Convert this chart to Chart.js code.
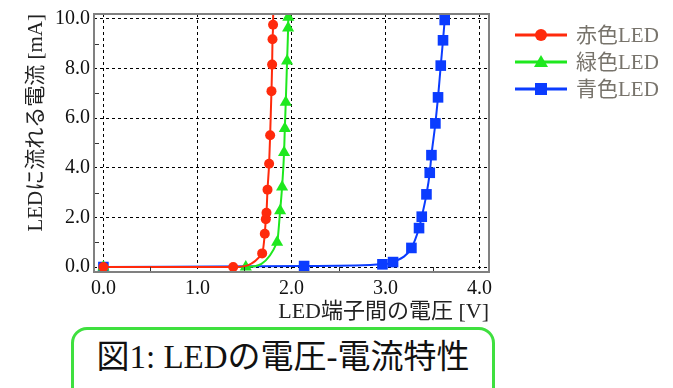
<!DOCTYPE html>
<html lang="ja">
<head>
<meta charset="utf-8">
<title>LEDの電圧-電流特性</title>
<script src="https://cdn.jsdelivr.net/npm/chart.js@4.4.1/dist/chart.umd.min.js"></script>
<style>
  body { margin: 0; background: #fff; }
  #wrap { position: relative; width: 673px; height: 388px; overflow: hidden; }
  #caption {
    position: absolute; left: 71px; top: 327px; width: 418px; height: 70px;
    border: 3px solid #3fe03f; border-radius: 16px;
    font-family: 'Liberation Serif', 'Noto Sans CJK JP', serif;
    font-size: 33px; line-height: 54px; text-align: center; color: #111;
  }
</style>
</head>
<body>
<div id="wrap">
  <canvas id="ledChart" width="673" height="325"></canvas>
  <div id="caption">図1: LEDの電圧-電流特性</div>
</div>
<script>
// 読み取った測定点 (電圧 V, 電流 mA)
const redV   = [0.0, 1.38, 1.688, 1.716, 1.727, 1.734, 1.745, 1.762, 1.773, 1.787, 1.794, 1.798, 1.804, 1.806];
const redI   = [0.0, 0.0, 0.55, 1.34, 1.93, 2.19, 3.12, 4.16, 5.31, 7.09, 8.16, 9.18, 9.77, 10.6];
const greenV = [0.0, 1.514, 1.847, 1.879, 1.900, 1.921, 1.929, 1.939, 1.953, 1.964, 1.966];
const greenI = [0.0, 0.0, 1.00, 2.27, 3.23, 4.62, 5.58, 6.64, 8.31, 9.64, 10.07];
const blueV  = [0.0, 2.134, 2.967, 3.08, 3.275, 3.356, 3.385, 3.435, 3.470, 3.488, 3.530, 3.558, 3.587, 3.611, 3.629];
const blueI  = [0.0, 0.04, 0.11, 0.2, 0.77, 1.57, 2.03, 2.93, 3.80, 4.51, 5.79, 6.84, 8.12, 9.14, 9.96];

const seriesNames = ["赤色LED", "緑色LED", "青色LED"];
const xTicks = [0, 1, 2, 3, 4];
const yTicks = [0, 2, 4, 6, 8, 10];
const xMinor = [0.5, 1.5, 2.5, 3.5];
const yMinor = [1, 3, 5, 7, 9];

const FONT = "'Liberation Serif', 'Noto Sans CJK JP', serif";

function pts(xs, ys) {
  return xs.map((x, i) => ({ x: x, y: ys[i] }));
}

// 枠・補助目盛・凡例
const decor = {
  id: 'decor',
  afterDraw(chart) {
    const ctx = chart.ctx;
    const a = chart.chartArea;
    const sx = chart.scales.x, sy = chart.scales.y;
    ctx.save();
    ctx.strokeStyle = '#333';
    ctx.lineWidth = 1;
    ctx.beginPath();
    yMinor.forEach(v => {
      const y = Math.round(sy.getPixelForValue(v)) + 0.5;
      ctx.moveTo(a.left, y); ctx.lineTo(a.left + 5, y);
    });
    xMinor.forEach(v => {
      const x = Math.round(sx.getPixelForValue(v)) + 0.5;
      ctx.moveTo(x, a.bottom); ctx.lineTo(x, a.bottom - 5);
    });
    ctx.stroke();

    ctx.strokeStyle = '#808080';
    ctx.lineWidth = 2;
    ctx.strokeRect(a.left, a.top, a.right - a.left, a.bottom - a.top);

    // 凡例
    ctx.font = '21px ' + FONT;
    ctx.textBaseline = 'middle';
    chart.data.datasets.forEach((ds, i) => {
      const y = 35 + i * 27;
      ctx.strokeStyle = ds.borderColor;
      ctx.lineWidth = 3;
      ctx.beginPath();
      ctx.moveTo(515, y); ctx.lineTo(567, y);
      ctx.stroke();
      ctx.fillStyle = ds.borderColor;
      ctx.beginPath();
      if (ds.pointStyle === 'circle') {
        ctx.arc(541, y, 6, 0, Math.PI * 2);
      } else if (ds.pointStyle === 'triangle') {
        ctx.moveTo(541, y - 7); ctx.lineTo(548, y + 5); ctx.lineTo(534, y + 5);
        ctx.closePath();
      } else {
        ctx.rect(535, y - 6, 12, 12);
      }
      ctx.fill();
      ctx.fillStyle = '#77736b';
      ctx.fillText(ds.label, 576, y + 1);
    });
    ctx.restore();
  }
};

new Chart(document.getElementById('ledChart'), {
  type: 'scatter',
  data: {
    datasets: [
      {
        label: seriesNames[0],
        data: pts(redV, redI),
        borderColor: '#ff2a0c',
        backgroundColor: '#ff2a0c',
        pointStyle: 'circle',
        pointRadius: 5
      },
      {
        label: seriesNames[1],
        data: pts(greenV, greenI),
        borderColor: '#1ee81e',
        backgroundColor: '#1ee81e',
        pointStyle: 'triangle',
        pointRadius: 7
      },
      {
        label: seriesNames[2],
        data: pts(blueV, blueI),
        borderColor: '#0b3cff',
        backgroundColor: '#0b3cff',
        pointStyle: 'rect',
        pointRadius: 7.5
      }
    ].map(ds => Object.assign(ds, {
      showLine: true,
      borderWidth: 2,
      pointBorderWidth: 0,
      cubicInterpolationMode: 'monotone'
    }))
  },
  options: {
    responsive: false,
    animation: false,
    layout: { padding: { top: 10, right: 184, left: 0, bottom: 0 } },
    plugins: {
      legend: { display: false },
      tooltip: { enabled: false }
    },
    scales: {
      x: {
        type: 'linear',
        min: -0.1,
        max: 4.1,
        afterBuildTicks: s => { s.ticks = xTicks.map(v => ({ value: v })); },
        afterFit: s => { s.height = 53; },
        ticks: {
          color: '#111',
          font: { family: FONT, size: 20 },
          padding: 5,
          maxRotation: 0,
          callback: v => v.toFixed(1)
        },
        grid: { color: '#000', lineWidth: 1, drawTicks: false },
        border: { display: false, dash: [3, 3] },
        title: {
          display: true,
          text: 'LED端子間の電圧 [V]',
          align: 'end',
          color: '#222',
          font: { family: FONT, size: 22 },
          padding: { top: 0, bottom: 0 }
        }
      },
      y: {
        type: 'linear',
        min: -0.2,
        max: 10.2,
        afterBuildTicks: s => { s.ticks = yTicks.map(v => ({ value: v })); },
        afterFit: s => { s.width = 94; },
        ticks: {
          color: '#111',
          font: { family: FONT, size: 20, lineHeight: 1 },
          padding: 4,
          callback: v => v.toFixed(1)
        },
        grid: { color: '#000', lineWidth: 1, drawTicks: false },
        border: { display: false, dash: [3, 3] },
        title: {
          display: true,
          text: 'LEDに流れる電流 [mA]',
          align: 'end',
          color: '#222',
          font: { family: FONT, size: 21 },
          padding: { top: 24, bottom: 0 }
        }
      }
    }
  },
  plugins: [decor]
});
</script>
</body>
</html>
